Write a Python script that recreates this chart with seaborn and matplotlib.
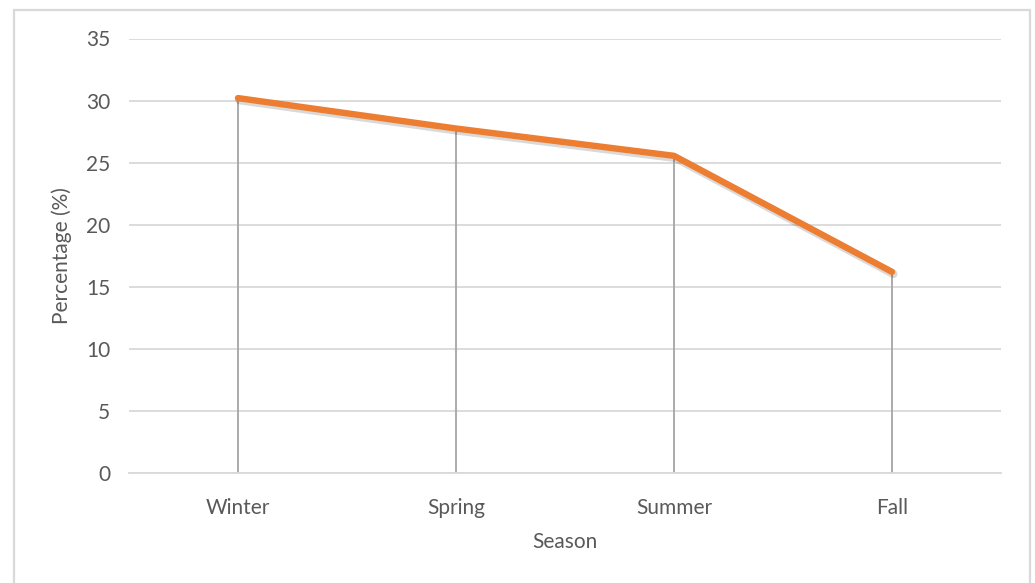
import matplotlib
matplotlib.use("Agg")
import matplotlib.pyplot as plt
import matplotlib.patheffects as pe
from matplotlib.patches import Rectangle
import seaborn as sns
import pandas as pd

seasons = ["Winter", "Spring", "Summer", "Fall"]
percentages = [30.2, 27.75, 25.55, 16.2]
y_ticks = [0, 5, 10, 15, 20, 25, 30, 35]

df = pd.DataFrame({"Season": seasons, "Percentage": percentages})

sns.set_style("white")
plt.rcParams["font.family"] = ["Lato", "DejaVu Sans"]

fig = plt.figure(figsize=(10.35, 5.83), dpi=100)
ax = fig.add_axes([129 / 1035, 1 - 473 / 583, 872 / 1035, (473 - 38.5) / 583])

text_color = "#595959"
grid_color = "#D9D9D9"
fs = 15

x = list(range(len(seasons)))
ax.vlines(x, 0, df["Percentage"], color="#A5A5A5", linewidth=1.3, zorder=2)

sns.lineplot(data=df, x="Season", y="Percentage", ax=ax, color="#ED7D31",
             linewidth=4.6, sort=False, zorder=3,
             path_effects=[pe.SimpleLineShadow(offset=(1.0, -1.5), alpha=0.15, shadow_color="black",
                                               linewidth=6),
                           pe.Normal()])
for l in ax.lines:
    l.set_solid_capstyle("round")
    l.set_solid_joinstyle("round")

ax.set_ylim(0, 35)
ax.set_xlim(-0.5, len(seasons) - 0.5)
ax.set_yticks(y_ticks)
ax.set_xticks(x)
ax.set_xticklabels(seasons)
ax.grid(axis="y", color=grid_color, linewidth=1.3, zorder=0)
ax.set_axisbelow(True)
for s in ["top", "right", "left"]:
    ax.spines[s].set_visible(False)
ax.spines["bottom"].set_color(grid_color)
ax.spines["bottom"].set_linewidth(1.3)
ax.tick_params(axis="both", length=0, colors=text_color, labelsize=fs)
ax.tick_params(axis="y", pad=13.5)
ax.tick_params(axis="x", pad=18)
ax.set_xlabel("Season", color=text_color, fontsize=fs, labelpad=10)
ax.set_ylabel("Percentage (%)", color=text_color, fontsize=fs, labelpad=10)

fig.patches.append(Rectangle((14 / 1035, -0.05), (1030 - 14) / 1035, 1.05 - 10 / 583,
                             transform=fig.transFigure, fill=False,
                             edgecolor=grid_color, linewidth=1.6))

fig.savefig("out.png", dpi=100, facecolor="white")
